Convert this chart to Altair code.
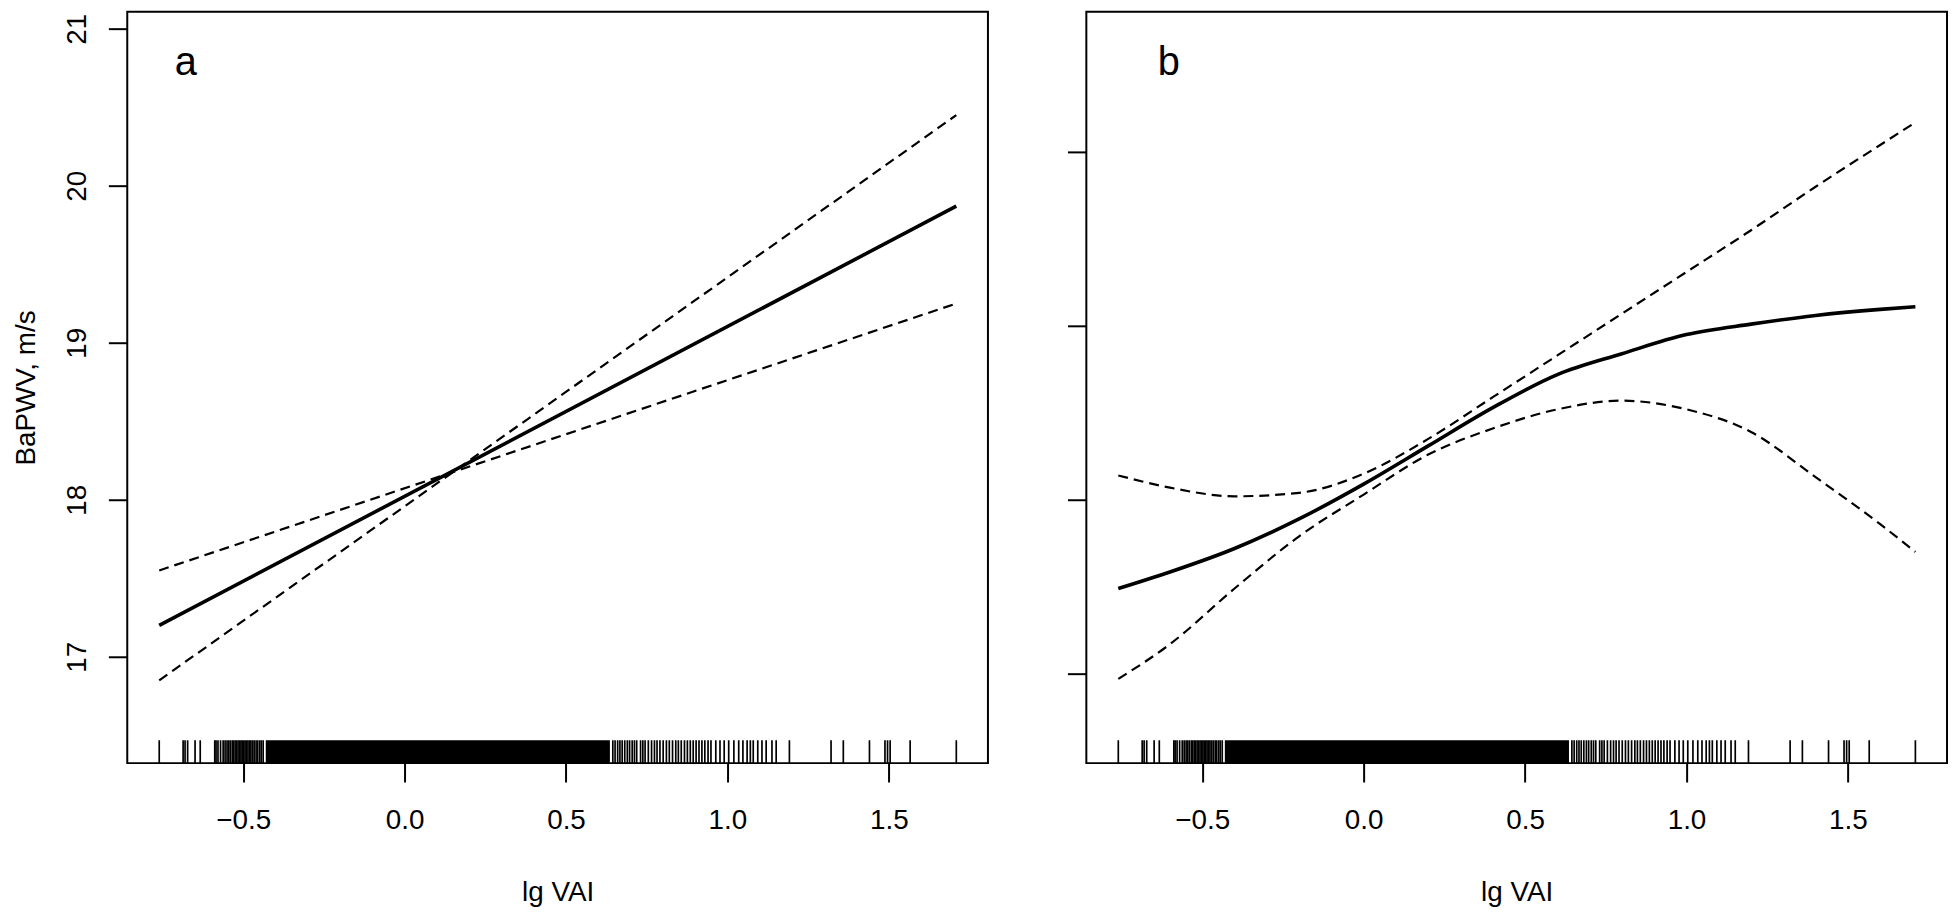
import altair as alt
import pandas as pd

# ---------------- data ----------------
# panel a : linear term
a_x = [-0.76, 1.709]
a_fit = [17.20, 19.87]
a_ci_1 = [17.55, 19.25]
a_ci_2 = [16.85, 20.45]

# panel b : smooth term
b_x = [-0.76, -0.6, -0.4, -0.2, 0.0, 0.2, 0.4, 0.6, 0.8, 1.0, 1.2, 1.4, 1.6, 1.709]
b_fit = [17.49, 17.585, 17.72, 17.89, 18.09, 18.31, 18.53, 18.72, 18.84, 18.95, 19.01, 19.06, 19.095, 19.11]
b_upper = [18.14, 18.07, 18.02, 18.04, 18.15, 18.35, 18.59, 18.83, 19.07, 19.31, 19.55, 19.80, 20.04, 20.17]
b_lower = [16.97, 17.17, 17.49, 17.79, 18.03, 18.26, 18.41, 18.52, 18.57, 18.52, 18.39, 18.13, 17.86, 17.70]

# rug (lg VAI observations)
rug_x = [-0.760, -0.686, -0.680, -0.672, -0.649, -0.633, -0.588, -0.584, -0.578,
         -0.570, -0.562, -0.556, -0.550, -0.545, -0.540, -0.534, -0.530, -0.525,
         -0.521, -0.516, -0.512, -0.507, -0.503, -0.498, -0.494, -0.489, -0.485,
         -0.480, -0.476, -0.471, -0.466, -0.460, -0.455, -0.449, -0.444, -0.438,
         0.645, 0.652, 0.660, 0.667, 0.674, 0.682, 0.690, 0.697, 0.705, 0.712, 0.719,
         0.731, 0.738, 0.745, 0.755, 0.765, 0.774, 0.782, 0.791, 0.801, 0.811, 0.820,
         0.830, 0.840, 0.848, 0.857, 0.867, 0.876, 0.885, 0.894, 0.903, 0.912, 0.921,
         0.930, 0.940, 0.949, 0.964, 0.977, 0.990, 1.004, 1.020, 1.035, 1.048, 1.061,
         1.071, 1.080, 1.094, 1.107, 1.120, 1.138, 1.151, 1.192, 1.321, 1.359, 1.440,
         1.488, 1.496, 1.504, 1.566, 1.709]
rug_dense_start = [-0.43]
rug_dense_end = [0.636]

x_ticks = [-0.5, 0.0, 0.5, 1.0, 1.5]
a_y_ticks = [17, 18, 19, 20, 21]
b_y_ticks = [17, 18, 19, 20]

X_DOMAIN = [-0.859, 1.807]
A_Y_DOMAIN = [16.323, 21.108]
B_Y_DOMAIN = [16.486, 20.806]

W = 866
H = 756
RUG = 23
FONT = "Liberation Sans"


def panel(xs, fit, ci1, ci2, ydom, yticks, letter, letter_x, first):
    lines = pd.DataFrame({
        "x": xs * 3,
        "y": fit + ci1 + ci2,
        "series": ["fit"] * len(xs) + ["ci1"] * len(xs) + ["ci2"] * len(xs),
    })
    xscale = alt.Scale(domain=X_DOMAIN, nice=False, zero=False)
    yscale = alt.Scale(domain=ydom, nice=False, zero=False)

    xaxis = alt.Axis(values=x_ticks, format=".1f", title="lg VAI",
                     labelPadding=25, titlePadding=44, grid=False)
    if first:
        yaxis = alt.Axis(values=yticks, format="d", title="BaPWV, m/s",
                         labelAngle=270, labelAlign="center", labelBaseline="bottom",
                         labelPadding=17, titlePadding=23, grid=False)
    else:
        yaxis = alt.Axis(values=yticks, labels=False, title=None, grid=False)

    solid = alt.Chart(lines).transform_filter(alt.datum.series == "fit").mark_line(
        color="black", strokeWidth=3.6, interpolate="monotone"
    ).encode(
        x=alt.X("x:Q", scale=xscale, axis=xaxis),
        y=alt.Y("y:Q", scale=yscale, axis=yaxis),
    )
    dashed = alt.Chart(lines).transform_filter(alt.datum.series != "fit").mark_line(
        color="black", strokeWidth=2.2, strokeDash=[10, 6], interpolate="monotone"
    ).encode(
        x=alt.X("x:Q", scale=xscale),
        y=alt.Y("y:Q", scale=yscale),
        detail="series:N",
    )
    rug = alt.Chart(pd.DataFrame({"rx": rug_x})).mark_rule(
        color="black", strokeWidth=1.7
    ).encode(
        x=alt.X("rx:Q", scale=xscale),
        y=alt.value(H - RUG),
        y2=alt.value(H),
    )
    dense = alt.Chart(pd.DataFrame({"x0": rug_dense_start, "x1": rug_dense_end})).mark_rect(
        color="black"
    ).encode(
        x=alt.X("x0:Q", scale=xscale),
        x2="x1:Q",
        y=alt.value(H - RUG),
        y2=alt.value(H),
    )
    label = alt.Chart(pd.DataFrame({"t": [letter]})).mark_text(
        font=FONT, fontSize=40, color="black", align="center", baseline="alphabetic"
    ).encode(
        text="t:N",
        x=alt.value(letter_x),
        y=alt.value(64),
    )
    return alt.layer(dense, rug, dashed, solid, label).properties(width=W, height=H)


left = panel(a_x, a_fit, a_ci_1, a_ci_2, A_Y_DOMAIN, a_y_ticks, "a", 59, True)
right = panel(b_x, b_fit, b_upper, b_lower, B_Y_DOMAIN, b_y_ticks, "b", 83, False)

chart = alt.hconcat(left, right, spacing=77).properties(
    padding={"left": 4, "top": 0, "right": 2, "bottom": 0},
    background="white",
).configure_view(
    stroke="black", strokeWidth=2
).configure_axis(
    domain=False,
    tickColor="black", tickWidth=2, tickSize=19,
    labelFont=FONT, labelFontSize=28, labelColor="black",
    titleFont=FONT, titleFontSize=28, titleFontWeight="normal", titleColor="black",
)

chart.save("out.html", embed_options={"renderer": "svg", "actions": False})
